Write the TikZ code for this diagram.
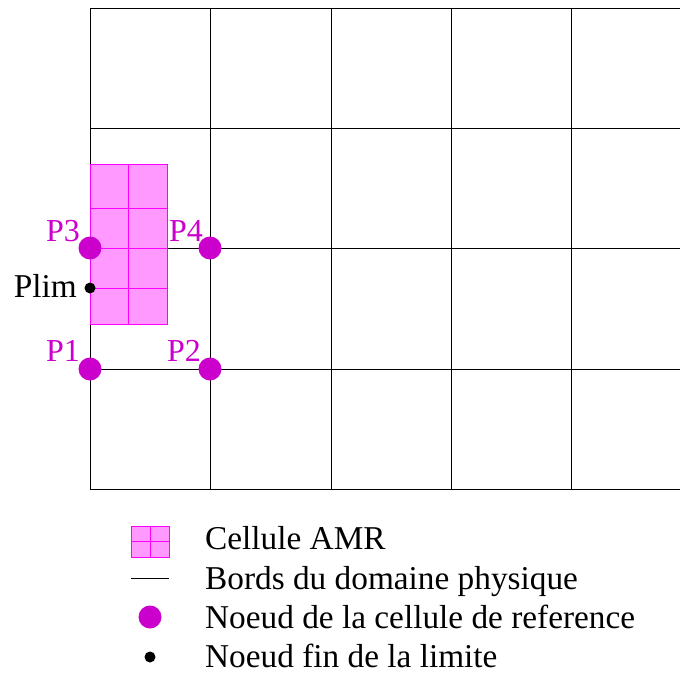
\documentclass[tikz,border=0pt]{standalone}
\usepackage{fontspec}
\setmainfont{Liberation Serif}
\usetikzlibrary{positioning}

\definecolor{amrfill}{HTML}{FF99FF}
\definecolor{amrline}{HTML}{FF00FF}
\definecolor{refnode}{HTML}{CC00CC}

\begin{document}
\begin{tikzpicture}[
    x=1pt, y=-1pt,
    font=\fontsize{33.3}{38}\selectfont,
    grid_line/.style={draw=black, line width=0.9pt},
    amr_line/.style={draw=amrline, line width=0.9pt},
    ref_dot/.style={circle, fill=refnode, inner sep=0pt, minimum size=23pt},
    lim_dot/.style={circle, fill=black, inner sep=0pt, minimum size=11pt},
    ref_label/.style={text=refnode, inner sep=0pt, font=\fontsize{32}{38}\selectfont},
    legend_text/.style={anchor=base west, inner sep=0pt}
]

\useasboundingbox (0,0) rectangle (680,677);

% Physical domain grid
\foreach \y in {8,128,248,369,489} \draw[grid_line] (90,\y) -- (680,\y);
\foreach \x in {90,210,331,451,571} \draw[grid_line] (\x,8) -- (\x,489);

% AMR cells
\fill[amrfill] (90,164) rectangle (167,324);
\foreach \y in {208,248,288} \draw[amr_line] (90,\y) -- (167,\y);
\draw[amr_line] (128,164) -- (128,324);
\draw[amr_line] (90,164) rectangle (167,324);

% Reference cell nodes
\node[ref_dot] (p1) at (90,369) {};
\node[ref_dot] (p2) at (210,369) {};
\node[ref_dot] (p3) at (90,248) {};
\node[ref_dot] (p4) at (210,248) {};
\node[lim_dot] (plim) at (90,288) {};

\node[ref_label, anchor=base east] (p1_lbl) at (80,361) {P1};
\node[ref_label, anchor=base east] (p2_lbl) at (201,361) {P2};
\node[ref_label, anchor=base east] (p3_lbl) at (80,241) {P3};
\node[ref_label, anchor=base west] (p4_lbl) at (169,241) {P4};
\node[anchor=base east, inner sep=0pt] (plim_lbl) at (77,297) {Plim};

% Legend
\fill[amrfill] (131,526) rectangle (169,557);
\draw[amr_line] (131,526) rectangle (169,557);
\draw[amr_line] (150,526) -- (150,557);
\draw[amr_line] (131,541.5) -- (169,541.5);
\node[legend_text] (leg_amr) at (205,549) {Cellule AMR};

\draw[grid_line] (131,578) -- (169,578);
\node[legend_text] (leg_bords) at (205,589) {Bords du domaine physique};

\node[ref_dot] (leg_dot) at (150,617) {};
\node[legend_text] (leg_ref) at (205,628) {Noeud de la cellule de reference};

\node[lim_dot] (leg_lim) at (150,657) {};
\node[legend_text] (leg_fin) at (205,667) {Noeud fin de la limite};

\end{tikzpicture}
\end{document}
